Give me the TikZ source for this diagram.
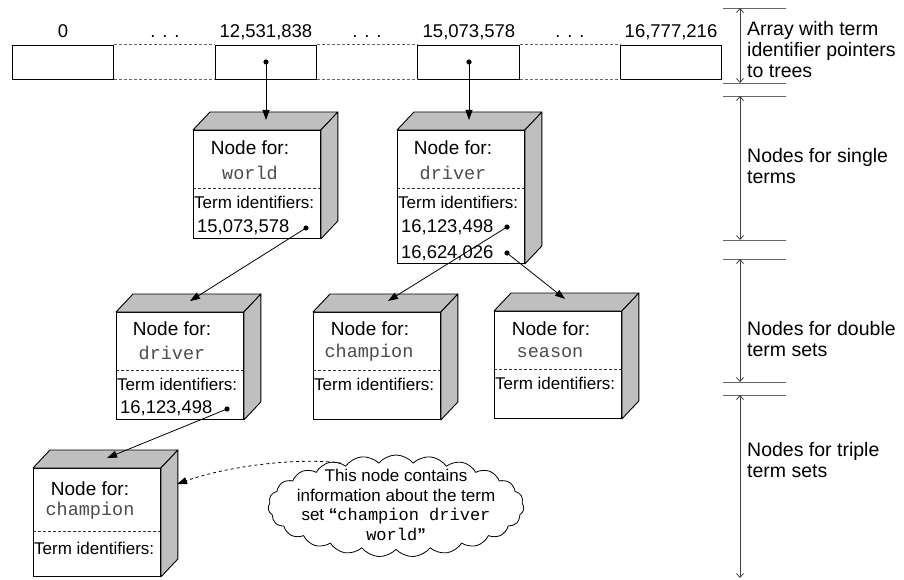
\documentclass[tikz,border=0pt]{standalone}
\usepackage{fontspec}
\setmainfont{Liberation Sans}
\setmonofont{Liberation Mono}
\usetikzlibrary{arrows.meta,shapes.symbols}

% cube sides around a front node
\newcommand{\cubefaces}[1]{%
  \draw[face] (#1.north west) -- ([shift={(17,-18)}]#1.north west)
    -- ([shift={(17,-18)}]#1.north east) -- (#1.north east) -- cycle;
  \draw[face] (#1.north east) -- ([shift={(17,-18)}]#1.north east)
    -- ([shift={(17,-18)}]#1.south east) -- (#1.south east) -- cycle;
}

\tikzset{
  front/.style={draw,fill=white,anchor=north west,minimum width=127pt,inner sep=0pt,line width=0.9pt},
  face/.style={draw,fill=black!25,line width=0.9pt,line join=round},
  cell/.style={draw,minimum width=101.5pt,minimum height=34pt,inner sep=0pt,line width=0.9pt},
  gapline/.style={draw=black!60,densely dashed,line width=0.9pt},
  divider/.style={draw=black!80,densely dashed,line width=0.8pt},
  head/.style={font=\fontsize{19}{21}\selectfont},
  word/.style={font=\ttfamily\fontsize{18.5}{20}\selectfont,text=black!70},
  ids/.style={anchor=west,inner sep=0pt,font=\fontsize{17}{19}\selectfont},
  num/.style={anchor=west,inner sep=0pt,font=\fontsize{18.4}{20}\selectfont},
  idx/.style={anchor=base,inner sep=0pt,font=\fontsize{18.5}{20}\selectfont},
  side/.style={anchor=west,align=left,inner sep=0pt,font=\fontsize{19.5}{21}\selectfont},
  ptr/.style={-{Triangle[length=10pt,width=7pt]},line width=0.8pt},
  dim/.style={{Straight Barb[length=4pt,width=7pt]}-{Straight Barb[length=4pt,width=7pt]},draw=black!75,line width=0.8pt},
  tick/.style={draw=black!60,line width=0.9pt},
}

\begin{document}
\begin{tikzpicture}[x=1pt,y=-1pt]
\useasboundingbox (0,0) rectangle (904,580);

% the pointer array
\node (c0) at (63,62) [cell] {};
\node (c2) at (266,62) [cell] {};
\node (c4) at (468.5,62) [cell] {};
\node (c6) at (671,62) [cell] {};
\draw[gapline] (c0.north east) -- (c2.north west);
\draw[gapline] (c0.south east) -- (c2.south west);
\draw[gapline] (c2.north east) -- (c4.north west);
\draw[gapline] (c2.south east) -- (c4.south west);
\draw[gapline] (c4.north east) -- (c6.north west);
\draw[gapline] (c4.south east) -- (c6.south west);
\node (l0) at (63,38) [idx] {0};
\node (l1) at (165,38) [idx] {. . .};
\node (l2) at (266,38) [idx] {12,531,838};
\node (l3) at (367,38) [idx] {. . .};
\node (l4) at (469,38) [idx] {15,073,578};
\node (l5) at (570,38) [idx] {. . .};
\node (l6) at (671,38) [idx] {16,777,216};

% single terms
\node (world) at (193,130) [front,minimum height=108pt] {};
\cubefaces{world}
\draw[divider] (193,188) -- (320,188);
\node (world-h) at (250,148) [head] {Node for:};
\node (world-w) at (250,173) [word] {world};
\node (world-t) at (194,202) [ids] {Term identifiers:};
\node (world-n) at (197,227) [num] {15,073,578};

\node (drv) at (397,130) [front,minimum height=133pt] {};
\cubefaces{drv}
\draw[divider] (397,188) -- (524,188);
\node (drv-h) at (453,148) [head] {Node for:};
\node (drv-w) at (453,173) [word] {driver};
\node (drv-t) at (398,202) [ids] {Term identifiers:};
\node (drv-n1) at (401,227) [num] {16,123,498};
\node (drv-n2) at (401,253) [num] {16,624,026};

% double term sets
\node (drv2) at (116,312) [front,minimum height=107pt] {};
\cubefaces{drv2}
\draw[divider] (116,370) -- (243,370);
\node (drv2-h) at (172,329) [head] {Node for:};
\node (drv2-w) at (172,353) [word] {driver};
\node (drv2-t) at (117,384) [ids] {Term identifiers:};
\node (drv2-n) at (120,408) [num] {16,123,498};

\node (chp2) at (313,312) [front,minimum height=107pt] {};
\cubefaces{chp2}
\draw[divider] (313,370) -- (440,370);
\node (chp2-h) at (370,329) [head] {Node for:};
\node (chp2-w) at (369,353) [word] {champion};
\node (chp2-t) at (314,384) [ids] {Term identifiers:};

\node (ssn) at (494,311) [front,minimum height=107pt] {};
\cubefaces{ssn}
\draw[divider] (494,369) -- (621,369);
\node (ssn-h) at (551,329) [head] {Node for:};
\node (ssn-w) at (550,353) [word] {season};
\node (ssn-t) at (495,383) [ids] {Term identifiers:};

% triple term sets
\node (chp3) at (33,468) [front,minimum height=108pt] {};
\cubefaces{chp3}
\draw[divider] (33,531) -- (160,531);
\node (chp3-h) at (90,489) [head] {Node for:};
\node (chp3-w) at (90,511) [word] {champion};
\node (chp3-t) at (34,548) [ids] {Term identifiers:};

% pointers
\coordinate (p-world) at (266,62);
\coordinate (p-drv) at (469,62);
\coordinate (p-drv2) at (306,228);
\coordinate (p-chp2) at (507,227);
\coordinate (p-ssn) at (507,253);
\coordinate (p-chp3) at (227,409);
\coordinate (world-in) at (266,120);
\coordinate (drv-in) at (469,120);
\coordinate (drv2-in) at (190,301);
\coordinate (chp2-in) at (388,301);
\coordinate (ssn-in) at (565,299);
\coordinate (chp3-in) at (107,458);
\foreach \p in {p-world,p-drv,p-drv2,p-chp2,p-ssn,p-chp3}
  \fill (\p) circle (2.6);
\draw[ptr] (p-world) -- (world-in);
\draw[ptr] (p-drv) -- (drv-in);
\draw[ptr] (p-drv2) -- (drv2-in);
\draw[ptr] (p-chp2) -- (chp2-in);
\draw[ptr] (p-ssn) -- (ssn-in);
\draw[ptr] (p-chp3) -- (chp3-in);

% remark
\node (note) at (396,506) [cloud,draw,fill=white,cloud puffs=23,cloud puff arc=100,
  minimum width=256pt,minimum height=102pt,inner sep=0pt,line width=0.8pt] {};
\node (note-t) at (396,505) [align=center,inner sep=0pt,font=\fontsize{17}{19.5}\selectfont]
  {This node contains\\information about the term\\set \textbf{“}\texttt{champion driver}\\\texttt{world}\textbf{”}};
\coordinate (chp3-note) at (177,484);
\draw[ptr,dashed] (note.142) .. controls (295,457) and (225,467) .. (chp3-note);

% levels on the right
\draw[tick] (723,8) -- (786,8);
\draw[tick] (723,83) -- (786,83);
\draw[tick] (723,96) -- (786,96);
\draw[tick] (723,240) -- (786,240);
\draw[tick] (723,259) -- (786,259);
\draw[tick] (723,382) -- (786,382);
\draw[tick] (723,395) -- (786,395);
\coordinate (a0) at (740,8);
\coordinate (a1) at (740,83);
\coordinate (b0) at (740,96);
\coordinate (b1) at (740,240);
\coordinate (c0) at (740,259);
\coordinate (c1) at (740,382);
\coordinate (d0) at (740,395);
\coordinate (d1) at (740,578);
\draw[dim] (a0) -- (a1);
\draw[dim] (b0) -- (b1);
\draw[dim] (c0) -- (c1);
\draw[dim] (d0) -- (d1);
\node (lvl-a) at (747,50) [side] {Array with term\\identifier pointers\\to trees};
\node (lvl-b) at (747,166) [side] {Nodes for single\\terms};
\node (lvl-c) at (747,339) [side] {Nodes for double\\term sets};
\node (lvl-d) at (747,460) [side] {Nodes for triple\\term sets};
\end{tikzpicture}
\end{document}
